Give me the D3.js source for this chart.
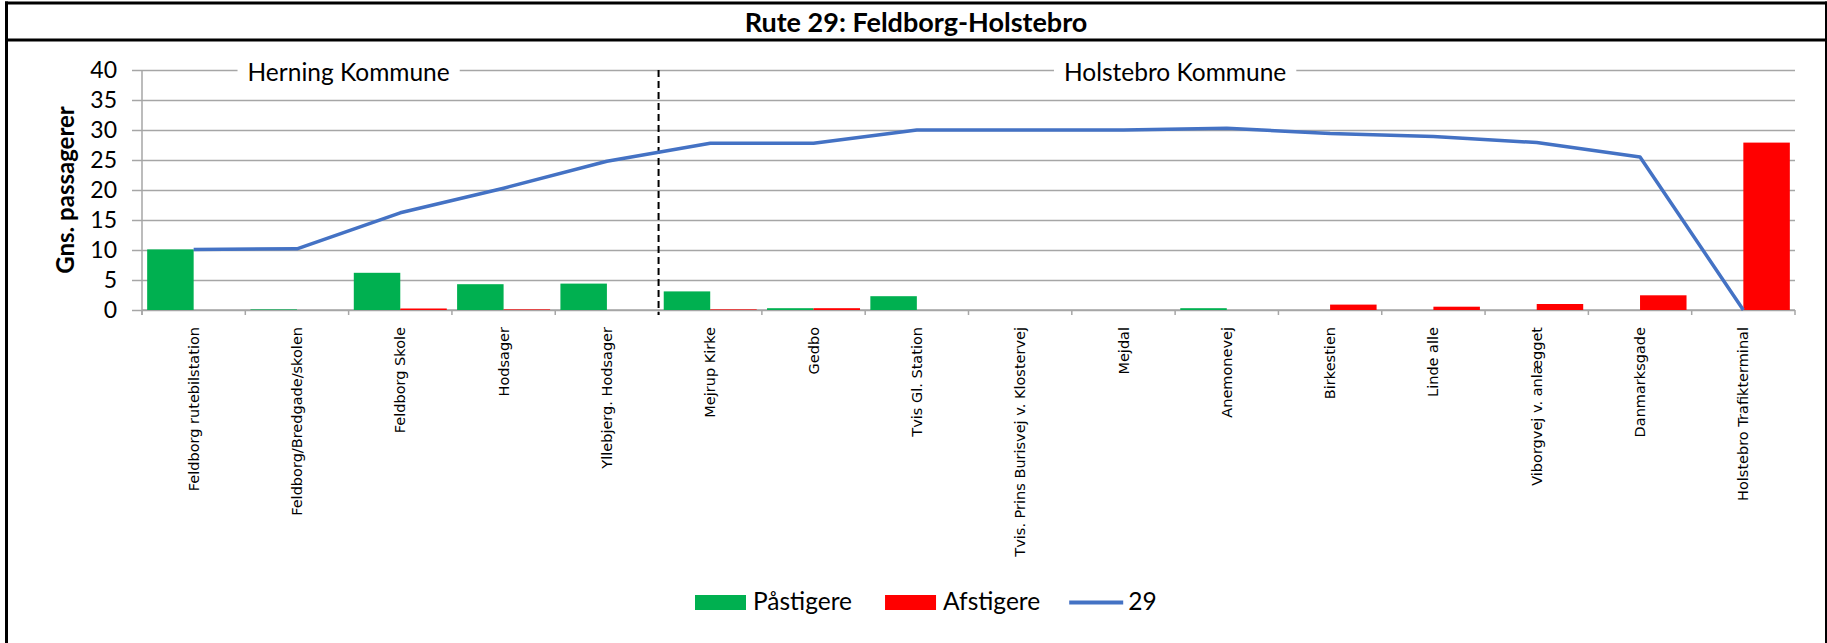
<!DOCTYPE html>
<html>
<head>
<meta charset="utf-8">
<script src="https://cdn.jsdelivr.net/npm/d3@7"></script>
<style>
  body { margin: 0; background: #fff; }
  svg { display: block; }
</style>
</head>
<body>
<div id="chart"></div>
<script>
// stop names along route 29
const stops = [
  "Feldborg rutebilstation",
  "Feldborg/Bredgade/skolen",
  "Feldborg Skole",
  "Hodsager",
  "Yllebjerg. Hodsager",
  "Mejrup Kirke",
  "Gedbo",
  "Tvis Gl. Station",
  "Tvis. Prins Burisvej v. Klostervej",
  "Mejdal",
  "Anemonevej",
  "Birkestien",
  "Linde alle",
  "Viborgvej v. anlægget",
  "Danmarksgade",
  "Holstebro Trafikterminal"
];

// average boardings / alightings per stop
const paastigere = [10.1, 0.1, 6.2, 4.3, 4.4, 3.1, 0.3, 2.3, 0, 0, 0.3, 0, 0, 0, 0, 0];
const afstigere  = [0, 0, 0.25, 0.1, 0, 0.1, 0.3, 0, 0, 0, 0, 0.9, 0.55, 1.0, 2.45, 27.9];
// load on the bus after each stop
const load29 = [10.1, 10.2, 16.2, 20.3, 24.8, 27.8, 27.8, 30.0, 30.0, 30.0, 30.3, 29.4, 28.9, 27.9, 25.5, 0];

const yTicks = [0, 5, 10, 15, 20, 25, 30, 35, 40];

// municipality sections (stop index ranges)
const regionNames = ["Herning Kommune", "Holstebro Kommune"];
const regionStart = [0, 5];
const regionEnd = [4, 15];

const legendNames = ["Påstigere", "Afstigere", "29"];

const width = 1827, height = 643;
const margin = {top: 70, right: 32, bottom: 333, left: 142};

const green = "#00b050", red = "#ff0000", blue = "#4472c4", grid = "#a6a6a6";
const calibri = "Lato, 'Open Sans', sans-serif";

const svg = d3.select("#chart").append("svg")
  .attr("width", width)
  .attr("height", height);

// frame
svg.append("line").attr("x1", 6.5).attr("x2", 6.5).attr("y1", 1.5).attr("y2", height)
  .attr("stroke", "#000").attr("stroke-width", 3);
svg.append("line").attr("x1", 5).attr("x2", width).attr("y1", 3).attr("y2", 3)
  .attr("stroke", "#000").attr("stroke-width", 3);
svg.append("line").attr("x1", 5).attr("x2", width).attr("y1", 40).attr("y2", 40)
  .attr("stroke", "#000").attr("stroke-width", 3);
svg.append("line").attr("x1", width - 1).attr("x2", width - 1).attr("y1", 1.5).attr("y2", height)
  .attr("stroke", "#000").attr("stroke-width", 2);

svg.append("text")
  .attr("x", 916)
  .attr("y", 32)
  .attr("text-anchor", "middle")
  .style("font-family", calibri)
  .style("font-weight", "bold")
  .style("font-size", "27px")
  .text("Rute 29: Feldborg-Holstebro");

const x = d3.scaleBand()
  .domain(d3.range(stops.length))
  .range([margin.left, width - margin.right])
  .padding(0);

const y = d3.scaleLinear()
  .domain([0, 40])
  .range([height - margin.bottom, margin.top]);

const bw = x.bandwidth();
const barW = bw * 0.45;

// gridlines + y axis
const yAxis = svg.append("g")
  .attr("transform", `translate(${margin.left},0)`)
  .call(d3.axisLeft(y).tickValues(yTicks).tickSize(10).tickPadding(15));
yAxis.select(".domain").attr("stroke", grid).attr("stroke-width", 1.5)
  .attr("d", `M0,${y(40)}V${y(0) + 5}`);
yAxis.selectAll(".tick line").attr("stroke", grid).attr("stroke-width", 1.5)
  .attr("x1", -10).attr("x2", width - margin.right - margin.left);
yAxis.selectAll(".tick text")
  .style("font-family", calibri)
  .style("font-size", "23px")
  .attr("fill", "#000");

svg.append("text")
  .attr("transform", `translate(74,${(y(0) + y(40)) / 2}) rotate(-90)`)
  .attr("text-anchor", "middle")
  .style("font-family", calibri)
  .style("font-weight", "bold")
  .style("font-size", "24px")
  .text("Gns. passagerer");

// x axis: ticks on category boundaries
const xAxis = svg.append("g")
  .attr("transform", `translate(0,${y(0)})`);
xAxis.append("line")
  .attr("x1", margin.left).attr("x2", width - margin.right)
  .attr("stroke", grid).attr("stroke-width", 1.5);
xAxis.selectAll(".xtick")
  .data(d3.range(stops.length + 1))
  .join("line")
  .attr("class", "xtick")
  .attr("x1", i => i < stops.length ? x(i) : x(i - 1) + bw)
  .attr("x2", i => i < stops.length ? x(i) : x(i - 1) + bw)
  .attr("y1", 0).attr("y2", 5)
  .attr("stroke", grid).attr("stroke-width", 1.5);

xAxis.selectAll(".xlab")
  .data(stops)
  .join("text")
  .attr("class", "xlab")
  .attr("transform", (d, i) => `translate(${x(i) + bw / 2},17) rotate(-90)`)
  .attr("text-anchor", "end")
  .attr("dy", "0.35em")
  .style("font-family", "'DejaVu Sans', sans-serif")
  .style("font-size", "14.5px")
  .text(d => d);

// region labels on the top gridline
regionNames.forEach((name, k) => {
  const cx = (x(regionStart[k]) + x(regionEnd[k])) / 2;
  const g = svg.append("g");
  const t = g.append("text")
    .attr("x", cx)
    .attr("y", y(40) + 11)
    .attr("text-anchor", "middle")
    .style("font-family", calibri)
    .style("font-size", "24.5px")
    .text(name);
  const bb = t.node().getBBox();
  g.insert("rect", "text")
    .attr("x", bb.x - 10).attr("y", y(40) - 3)
    .attr("width", bb.width + 20).attr("height", 6)
    .attr("fill", "#fff");
});

// divider between municipalities
svg.append("line")
  .attr("x1", x(regionStart[1])).attr("x2", x(regionStart[1]))
  .attr("y1", y(40)).attr("y2", y(0) + 5)
  .attr("stroke", "#000").attr("stroke-width", 2)
  .attr("stroke-dasharray", "7,4");

// bars
svg.append("g").selectAll("rect")
  .data(paastigere)
  .join("rect")
  .attr("x", (d, i) => x(i) + bw / 2 - barW)
  .attr("y", d => y(d))
  .attr("width", barW)
  .attr("height", d => y(0) - y(d))
  .attr("fill", green);

svg.append("g").selectAll("rect")
  .data(afstigere)
  .join("rect")
  .attr("x", (d, i) => x(i) + bw / 2)
  .attr("y", d => y(d))
  .attr("width", barW)
  .attr("height", d => y(0) - y(d))
  .attr("fill", red);

// load line
const line = d3.line()
  .x((d, i) => x(i) + bw / 2)
  .y(d => y(d));

svg.append("path")
  .datum(load29)
  .attr("d", line)
  .attr("fill", "none")
  .attr("stroke", blue)
  .attr("stroke-width", 3.5)
  .attr("stroke-linejoin", "round");

// legend
const legend = svg.append("g").attr("transform", "translate(695,595)");
let lx = 0;
legendNames.forEach((name, i) => {
  if (i < 2) {
    legend.append("rect")
      .attr("x", lx).attr("y", 0)
      .attr("width", 51).attr("height", 15)
      .attr("fill", i === 0 ? green : red);
    lx += 58;
  } else {
    legend.append("line")
      .attr("x1", lx - 4).attr("x2", lx + 50).attr("y1", 7.5).attr("y2", 7.5)
      .attr("stroke", blue).attr("stroke-width", 4);
    lx += 55;
  }
  const t = legend.append("text")
    .attr("x", lx).attr("y", 15)
    .style("font-family", calibri)
    .style("font-size", "24.5px")
    .text(name);
  lx += t.node().getComputedTextLength() + 33;
});
</script>
</body>
</html>
